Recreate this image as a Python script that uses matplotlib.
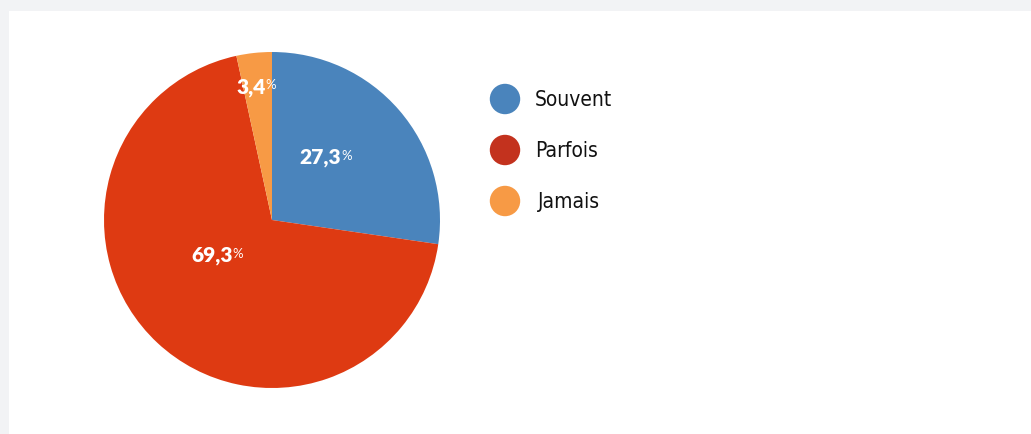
import numpy as np
import matplotlib
matplotlib.use("Agg")
import matplotlib.pyplot as plt
from matplotlib.patches import Rectangle

W, H = 1031, 435

categories = ["Souvent", "Parfois", "Jamais"]
values = [27.3, 69.3, 3.4]
value_labels = ["27,3", "69,3", "3,4"]
pie_colors = ["#4a84bc", "#de3a12", "#f79a45"]
legend_colors = ["#4a84bc", "#c3321e", "#f79a45"]

# label placement tweaks (radius as fraction of r, angle shift in degrees)
label_radius = [0.50, 0.38, 0.80]
label_shift = [8, -14, 0]

fig = plt.figure(figsize=(W / 100, H / 100), dpi=100)
fig.patch.set_facecolor("#f2f3f5")
fig.add_artist(Rectangle((9 / W, 0), 1 - 9 / W, 1 - 12 / H,
                         transform=fig.transFigure, facecolor="white",
                         edgecolor="none", zorder=0))

cx, cy, r = 272, 221, 168
ax = fig.add_axes([(cx - r) / W, (H - cy - r) / H, 2 * r / W, 2 * r / H])
wedges, _ = ax.pie(values, colors=pie_colors, startangle=90, counterclock=False,
                   radius=1, wedgeprops=dict(linewidth=0))
ax.set_xlim(-1, 1)
ax.set_ylim(-1, 1)
ax.set_aspect("equal")
ax.axis("off")

lab_font = ["Lato", "DejaVu Sans"]
for w, lab, rad, shift in zip(wedges, value_labels, label_radius, label_shift):
    mid = np.deg2rad((w.theta1 + w.theta2) / 2 + shift)
    x, y = rad * np.cos(mid), rad * np.sin(mid)
    t = ax.text(x - 0.04, y, lab, ha="center", va="center", color="white",
                fontsize=15, fontweight="heavy", family=lab_font)
    ax.annotate("%", xy=(1, 0.92), xycoords=t, ha="left", va="top", color="white",
                fontsize=9.5, family=lab_font)

# legend
lax = fig.add_axes([0, 0, 1, 1])
lax.set_xlim(0, W)
lax.set_ylim(H, 0)
lax.axis("off")
for i, (cat, col) in enumerate(zip(categories, legend_colors)):
    yy = 100 + 51 * i
    lax.scatter([505], [yy], s=480, color=col, edgecolors="none")
    xoff = 538 if cat == "Jamais" else 535
    lax.text(xoff, yy, cat, ha="left", va="center", fontsize=15, color="#111111",
             family="DejaVu Sans", fontstretch="condensed")

fig.savefig("out.png", dpi=100, facecolor=fig.get_facecolor())
